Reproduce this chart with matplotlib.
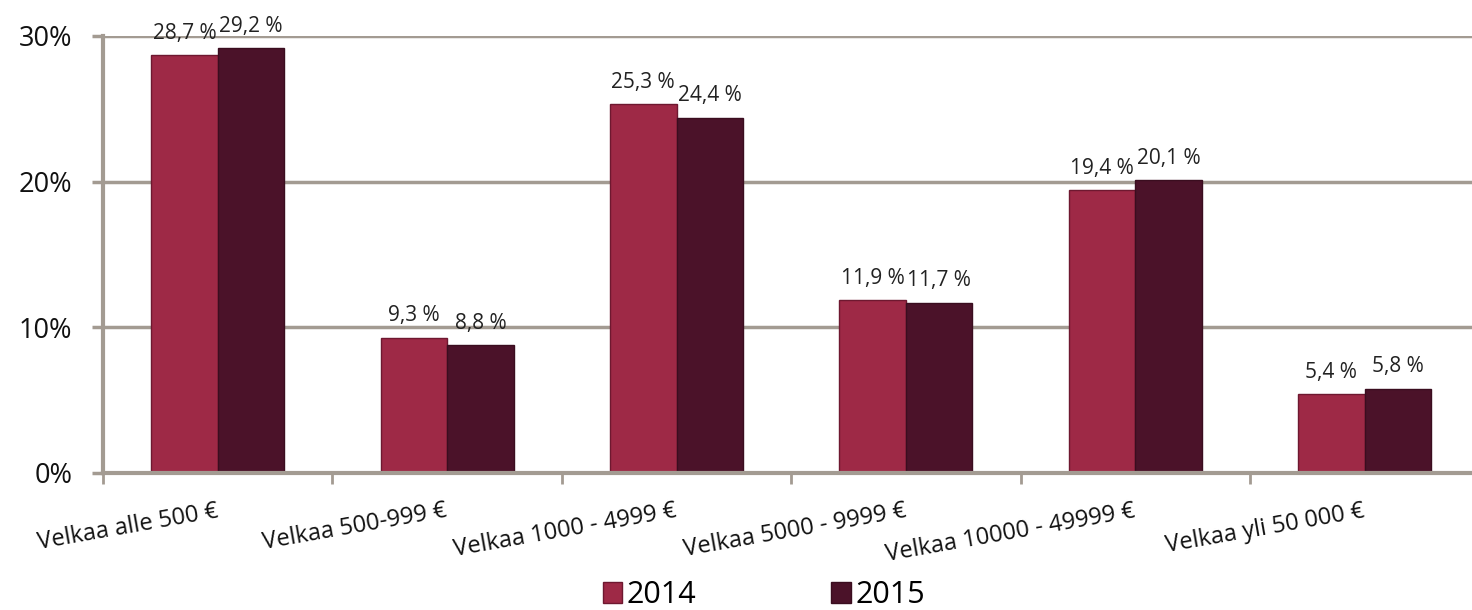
import matplotlib.pyplot as plt
import matplotlib.transforms as mtransforms
import numpy as np

# data
categories = ['Velkaa alle 500 €', 'Velkaa 500-999 €', 'Velkaa 1000 - 4999 €',
              'Velkaa 5000 - 9999 €', 'Velkaa 10000 - 49999 €', 'Velkaa yli 50 000 €']
v2014 = [28.7, 9.3, 25.3, 11.9, 19.4, 5.4]
v2015 = [29.2, 8.8, 24.4, 11.7, 20.1, 5.8]
labels2014 = ['28,7 %', '9,3 %', '25,3 %', '11,9 %', '19,4 %', '5,4 %']
labels2015 = ['29,2 %', '8,8 %', '24,4 %', '11,7 %', '20,1 %', '5,8 %']
yticks = [0, 10, 20, 30]
ytick_labels = ['0%', '10%', '20%', '30%']

plt.rcParams['font.family'] = ['Open Sans', 'DejaVu Sans']
c14 = '#9e2946'
c15 = '#4b1229'
gridc = '#a39b92'

fig = plt.figure(figsize=(14.72, 6.10), dpi=100)
ax = fig.add_axes([0.07, 0.2246, 0.935, 0.7164])

x = np.arange(len(categories))
w = 0.29
b1 = ax.bar(x - w / 2, v2014, w, color=c14, edgecolor='#6e1830', linewidth=1, label='2014', zorder=3)
b2 = ax.bar(x + w / 2, v2015, w, color=c15, edgecolor='#3a0d1f', linewidth=1, label='2015', zorder=3)

for bars, labs in ((b1, labels2014), (b2, labels2015)):
    for r, t in zip(bars, labs):
        ax.annotate(t, (r.get_x() + r.get_width() / 2, r.get_height()),
                    xytext=(0, 8), textcoords='offset points', ha='center', va='bottom',
                    fontsize=15, color='#222222')

ax.set_xlim(-0.5, len(categories) - 0.5)
ax.set_ylim(0, 30)
ax.set_yticks(yticks)
ax.set_yticklabels(ytick_labels, fontsize=19.5, color='#111111')
ax.yaxis.grid(True, color=gridc, linewidth=2.5, zorder=0)
ax.set_axisbelow(True)

for s in ['top', 'right']:
    ax.spines[s].set_visible(False)
for s in ['left', 'bottom']:
    ax.spines[s].set_color(gridc)
    ax.spines[s].set_linewidth(3)
ax.spines['bottom'].set_zorder(4)

ax.tick_params(axis='y', length=8, width=2.5, color=gridc, pad=14)
ax.set_xticks(np.arange(len(categories) + 1) - 0.5)
ax.set_xticklabels([])
ax.tick_params(axis='x', length=8, width=2, color=gridc)

# category labels: right end at the category centre, tilted 10 degrees
off = mtransforms.offset_copy(ax.transData, fig=fig, x=0, y=-38 * 0.72, units='points')
for i, cat in enumerate(categories):
    ax.text(i, 0, cat, transform=off, rotation=10, ha='right', va='center',
            fontsize=17, color='#111111', rotation_mode='anchor', clip_on=False)

leg = fig.legend(handles=[b1, b2], labels=['2014', '2015'], loc='center',
                 bbox_to_anchor=(0.519, 0.024), ncol=2, frameon=False, fontsize=22,
                 handlelength=0.65, handleheight=0.65, handletextpad=0.15, columnspacing=4.4)

fig.savefig('out.png', dpi=100)
